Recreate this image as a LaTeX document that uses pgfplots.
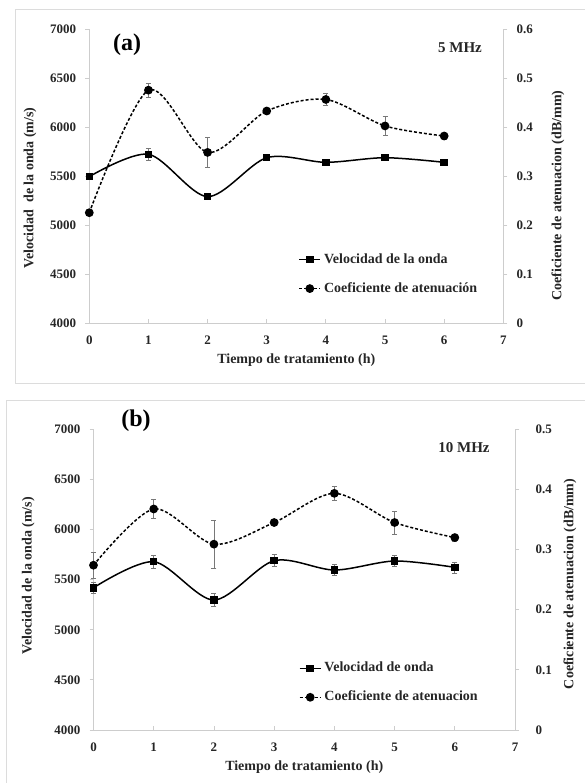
\documentclass[border=0pt]{standalone}
\usepackage{pgfplots}
\pgfplotsset{compat=1.18}
\usepackage{fontspec}
\setmainfont{Liberation Serif}
\definecolor{axgray}{RGB}{205,205,205}
\definecolor{framegray}{RGB}{220,220,220}
\definecolor{errgray}{RGB}{120,120,120}

\pgfplotsset{
  base/.style={
    scale only axis, anchor=south west, clip=false,
    xmin=0, xmax=7,
    /pgf/number format/assume math mode=true,
    tick label style={font=\bfseries\fontsize{13bp}{15bp}\selectfont, text=black!85},
    axis line style={axgray, line width=0.8bp},
    tick style={axgray, line width=0.8bp},
    major tick length=4bp,
    tick align=outside,
    every axis x label/.style={at={(axis description cs:0.5,0)}, anchor=center, yshift=-37bp,
      font=\bfseries\fontsize{14bp}{16bp}\selectfont, text=black!85},
  },
  leftax/.style={base,
    axis y line*=left, axis x line*=bottom,
    ymin=4000, ymax=7000,
    ytick={4000,4500,5000,5500,6000,6500,7000},
    yticklabels={4000,4500,5000,5500,6000,6500,7000},
    xtick={0,1,2,3,4,5,6,7},
    xticklabels={0,1,2,3,4,5,6,7},
    x tick style={yshift=4bp},
    xticklabel style={anchor=north, inner sep=0pt, yshift=-8.5bp},
    yticklabel style={anchor=east, inner sep=0pt, xshift=-9bp},
  },
  rightax/.style={base,
    axis y line*=right, axis x line=none,
    ymin=0, xtick=\empty,
    yticklabel style={anchor=west, inner sep=0pt, xshift=9bp},
  },
  vel/.style={black, line width=1.5bp, solid, smooth, tension=0.5,
    mark=square*, mark size=3bp, mark options={solid, fill=black},
    /pgfplots/error bars/y dir=both, /pgfplots/error bars/y explicit,
    /pgfplots/error bars/error bar style={errgray, line width=0.6bp, solid},
    /pgfplots/error bars/error mark options={rotate=90, errgray, mark size=2.5bp, line width=0.6bp, solid}},
  att/.style={black, line width=1.5bp, dash pattern=on 3bp off 2bp, smooth, tension=0.5,
    mark=*, mark size=3.6bp, mark options={solid, fill=black},
    /pgfplots/error bars/y dir=both, /pgfplots/error bars/y explicit,
    /pgfplots/error bars/error bar style={errgray, line width=0.6bp, solid},
    /pgfplots/error bars/error mark options={rotate=90, errgray, mark size=2.5bp, line width=0.6bp, solid}},
  leg/.style={
    legend cell align=left,
    legend image code/.code={\draw[mark repeat=2, mark phase=2, ##1] plot coordinates {(0bp,0bp) (10.5bp,0bp) (21bp,0bp)};},
    legend style={draw=none, fill=none, inner sep=0pt, anchor=west,
      font=\bfseries\fontsize{14bp}{16bp}\selectfont, text=black!85,
      nodes={inner sep=0pt, text height=10bp, text depth=3bp},
      row sep=16bp, /tikz/every odd column/.append style={column sep=3bp}},
  },
}

\begin{document}
\begin{tikzpicture}[x=1bp, y=1bp]
% frames
\draw[framegray, line width=0.8bp] (585,399.5) -- (15,399.5) -- (15,773.7) -- (585,773.7);
\draw[framegray, line width=0.8bp] (6,0) -- (6,383) -- (585,383);

% ---------- Panel (a) ----------
\begin{axis}[leftax, at={(89.3bp,459.5bp)}, width=414bp, height=294.1bp,
  xlabel={Tiempo de tratamiento (h)},
  ylabel={Velocidad\ \ de la onda (m/s)},
  every axis y label/.style={at={(axis description cs:-0.143,0.461)}, rotate=90, anchor=center,
    font=\bfseries\fontsize{14bp}{16bp}\selectfont, text=black!85}]
\addplot[vel] coordinates {
  (0,5498) +- (0,20)
  (1,5726) +- (0,60)
  (2,5294) +- (0,20)
  (3,5691) +- (0,25)
  (4,5644) +- (0,20)
  (5,5691) +- (0,25)
  (6,5644) +- (0,15)
};
\end{axis}
\begin{axis}[rightax, leg, at={(89.3bp,459.5bp)}, width=414bp, height=294.1bp,
  ymax=0.6, ytick={0,0.1,0.2,0.3,0.4,0.5,0.6}, yticklabels={0,0.1,0.2,0.3,0.4,0.5,0.6},
  ylabel={Coeficiente de atenuacion (dB/mm)},
  every axis y label/.style={at={(axis description cs:1.132,0.435)}, rotate=90, anchor=center,
    font=\bfseries\fontsize{14bp}{16bp}\selectfont, text=black!85},
  legend style={at={(axis description cs:0.505,0.168)}}]
\addlegendimage{vel}
\addlegendentry{Velocidad de la onda}
\addplot[att] coordinates {
  (0,0.226) +- (0,0.005)
  (1,0.476) +- (0,0.015)
  (2,0.349) +- (0,0.030)
  (3,0.4335) +- (0,0.005)
  (4,0.457) +- (0,0.012)
  (5,0.403) +- (0,0.019)
  (6,0.3825) +- (0,0.006)
};
\addlegendentry{Coeficiente de atenuación}
\end{axis}
\node[font=\bfseries\fontsize{24bp}{26bp}\selectfont] at (127,738) {(a)};
\node[font=\bfseries\fontsize{15bp}{17bp}\selectfont, text=black!85] at (460,735) {5 MHz};

% ---------- Panel (b) ----------
\begin{axis}[leftax, at={(93.5bp,53bp)}, width=421.5bp, height=300.7bp,
  xlabel={Tiempo de tratamiento (h)},
  ylabel={Velocidad de la onda (m/s)},
  every axis y label/.style={at={(axis description cs:-0.155,0.513)}, rotate=90, anchor=center,
    font=\bfseries\fontsize{14bp}{16bp}\selectfont, text=black!85}]
\addplot[vel] coordinates {
  (0,5419) +- (0,58)
  (1,5679) +- (0,62)
  (2,5297) +- (0,62)
  (3,5689) +- (0,60)
  (4,5596) +- (0,55)
  (5,5686) +- (0,55)
  (6,5623) +- (0,55)
};
\end{axis}
\begin{axis}[rightax, leg, at={(93.5bp,53bp)}, width=421.5bp, height=300.7bp,
  ymax=0.5, ytick={0,0.1,0.2,0.3,0.4,0.5}, yticklabels={0,0.1,0.2,0.3,0.4,0.5},
  yticklabel style={xshift=7.5bp},
  ylabel={Coeficiente de atenuacion (dB/mm)},
  every axis y label/.style={at={(axis description cs:1.1305,0.486)}, rotate=90, anchor=center,
    font=\bfseries\fontsize{14bp}{16bp}\selectfont, text=black!85},
  legend style={at={(axis description cs:0.487,0.157)}}]
\addlegendimage{vel}
\addlegendentry{Velocidad de onda}
\addplot[att] coordinates {
  (0,0.274) +- (0,0.021)
  (1,0.3675) +- (0,0.016)
  (2,0.309) +- (0,0.040)
  (3,0.345) +- (0,0.005)
  (4,0.3935) +- (0,0.011)
  (5,0.345) +- (0,0.019)
  (6,0.320) +- (0,0.006)
};
\addlegendentry{Coeficiente de atenuacion}
\end{axis}
\node[font=\bfseries\fontsize{24bp}{26bp}\selectfont] at (136,362) {(b)};
\node[font=\bfseries\fontsize{15bp}{17bp}\selectfont, text=black!85] at (464,335) {10 MHz};
\pgfresetboundingbox
\useasboundingbox (0,0) rectangle (585,783);
\end{tikzpicture}
\end{document}
